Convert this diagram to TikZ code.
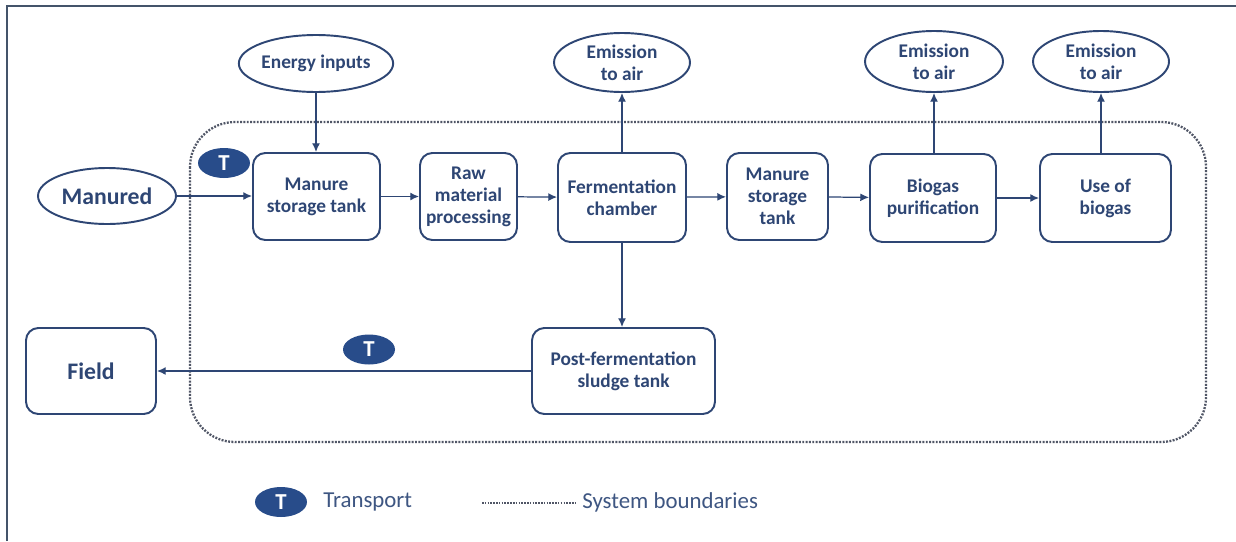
\documentclass[tikz,border=0pt]{standalone}
\usepackage{fontspec}
\setmainfont{Carlito}
\usetikzlibrary{shapes.geometric,arrows.meta}
\definecolor{navy}{RGB}{46,70,116}
\definecolor{badge}{RGB}{40,76,138}
\definecolor{frameline}{RGB}{68,84,106}
\definecolor{dotgray}{RGB}{80,86,102}
\definecolor{legendtext}{RGB}{62,86,130}
\tikzset{
  box/.style={draw=navy, line width=1.1pt, rounded corners=7pt, align=center,
    text=navy, font=\fontsize{11}{12.5}\selectfont\bfseries, inner sep=2pt},
  oval/.style={draw=navy, line width=1.1pt, ellipse, align=center, inner sep=0pt,
    text=navy, font=\fontsize{11}{12.5}\selectfont\bfseries},
  badgenode/.style={ellipse, fill=badge, text=white, inner sep=0pt,
    minimum width=1.04cm, minimum height=0.6cm, font=\fontsize{13}{13}\selectfont\bfseries},
  flow/.style={draw=navy, line width=0.7pt, -{Latex[length=5pt,width=4.5pt]}},
  boundary/.style={draw=dotgray, line width=1.3pt, dash pattern=on 1.1pt off 0.8pt},
}
\begin{document}
\begin{tikzpicture}[x=0.02cm, y=-0.02cm]
\useasboundingbox (0,0) rectangle (1236,541);
\fill[white] (0,0) rectangle (1236,541);
% outer frame (top and left edges only)
\draw[frameline, line width=1.1pt] (7,541) -- (7,6) -- (1236,6);

% system boundary
\draw[boundary, rounded corners=0.9cm] (190,122) rectangle (1206,442);

% process steps
\node[box, minimum width=2.54cm, minimum height=1.74cm] (mst1) at (316.5,196.5) {Manure\\storage tank};
\node[box, minimum width=1.94cm, minimum height=1.74cm] (raw) at (468.5,196.5) {Raw\\material\\processing};
\node[box, minimum width=2.56cm, minimum height=1.78cm] (ferm) at (622,197.5) {Fermentation\\chamber};
\node[box, minimum width=2.02cm, minimum height=1.74cm] (mst2) at (777.5,196.5) {Manure\\storage\\tank};
\node[box, minimum width=2.52cm, minimum height=1.76cm] (bio) at (933,198) {Biogas\\purification};
\node[box, minimum width=2.62cm, minimum height=1.76cm] (use) at (1105.5,198) {Use of\\biogas};
\node[box, minimum width=3.66cm, minimum height=1.72cm] (post) at (623.5,371) {Post-fermentation\\sludge tank};
\node[box, minimum width=2.6cm, minimum height=1.72cm, font=\fontsize{13.5}{15}\selectfont\bfseries] (field) at (91,371) {Field};

% inputs and outputs
\node[oval, minimum width=2.76cm, minimum height=1.14cm] (energy) at (316,63.5) {Energy inputs};
\node[oval, minimum width=2.76cm, minimum height=1.12cm, font=\fontsize{13.5}{15}\selectfont\bfseries] (manured) at (107,196) {Manured};
\node[oval, minimum width=2.72cm, minimum height=1.18cm] (em1) at (622,62.5) {Emission\\to air};
\node[oval, minimum width=2.76cm, minimum height=1.22cm] (em2) at (934,61.5) {Emission\\to air};
\node[oval, minimum width=2.72cm, minimum height=1.22cm] (em3) at (1101,61.5) {Emission\\to air};

% transport markers
\node[badgenode] (t1) at (224,163) {T};
\node[badgenode] (t2) at (369,349.5) {T};

% flows
\draw[flow] (energy.south) -- (energy.south |- mst1.north);
\draw[flow] (manured.east) -- (manured.east -| mst1.west);
\draw[flow] (mst1) -- (raw);
\draw[flow] (raw) -- (ferm);
\draw[flow] (ferm) -- (mst2);
\draw[flow] (mst2) -- (bio);
\draw[flow] (bio) -- (use);
\draw[flow] (ferm.north) -- (em1.south);
\draw[flow] (bio.north -| em2.south) -- (em2.south);
\draw[flow] (use.north -| em3.south) -- (em3.south);
\draw[flow] (ferm.south) -- (ferm.south |- post.north);
\draw[flow] (post.west) -- (post.west -| field.east);

% legend
\node[badgenode] (lt) at (281,502) {T};
\node[anchor=west, text=legendtext, font=\fontsize{13}{13}\selectfont, inner sep=0pt] (ltxt) at (323,502) {Transport};
\coordinate (ldot1) at (482,503);
\coordinate (ldot2) at (577,503);
\draw[boundary, line width=1pt, dash pattern=on 0.9pt off 0.7pt] (ldot1) -- (ldot2);
\node[anchor=west, text=legendtext, font=\fontsize{13}{13}\selectfont, inner sep=0pt] (lbtxt) at (582,502) {System boundaries};
\end{tikzpicture}
\end{document}
